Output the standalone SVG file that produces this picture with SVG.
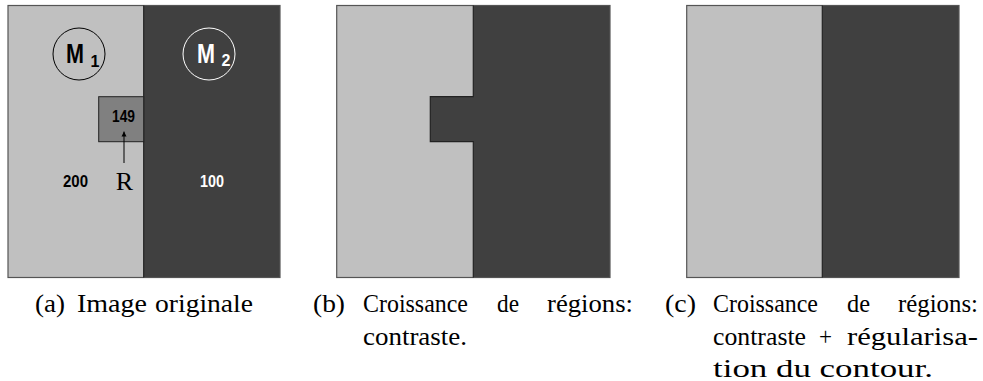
<svg xmlns="http://www.w3.org/2000/svg" width="983" height="381" viewBox="0 0 983 381">
<style>
.light{fill:#c0c0c0;}
.dark{fill:#404040;}
.mid{fill:#808080;stroke:#222;stroke-width:1;}
.frame{fill:none;stroke:#555;stroke-width:1.2;}
.edge{stroke:#222;stroke-width:1.2;fill:none;}
.conn{stroke:#000;stroke-width:1;fill:none;}
.cap{font-family:'Liberation Serif','Times New Roman',serif;font-size:25px;fill:#000;}
</style>
<defs>
<marker id="ah" viewBox="0 0 10 10" refX="10" refY="5" markerWidth="5" markerHeight="10" markerUnits="userSpaceOnUse" orient="auto">
<path d="M0,0 L10,5 L0,10 z" fill="#000"/>
</marker>
</defs>
<rect width="983" height="381" fill="#fff"/>

<g id="panel-a" font-family="'Liberation Sans', Arial, sans-serif" font-weight="bold">
<rect class="light" x="8" y="5.5" width="135.7" height="272"/>
<rect class="dark" x="143.7" y="5.5" width="136.3" height="272"/>
<rect class="frame" x="8" y="5.5" width="272" height="272"/>
<line class="edge" x1="143.7" y1="5.5" x2="143.7" y2="277.5"/>
<g id="M1">
<circle cx="79" cy="54" r="26" fill="none" stroke="#000" stroke-width="1"/>
<text x="66" y="63.3" font-size="27" fill="#000" textLength="18" lengthAdjust="spacingAndGlyphs">M</text>
<text x="90.5" y="66.5" font-size="16" fill="#000">1</text>
</g>
<g id="M2">
<circle cx="209" cy="54" r="26" fill="none" stroke="#fff" stroke-width="1"/>
<text x="197" y="63.3" font-size="27" fill="#fff" textLength="18" lengthAdjust="spacingAndGlyphs">M</text>
<text x="221.5" y="66" font-size="16" fill="#fff">2</text>
</g>
<g id="R-region">
<rect class="mid" x="98.7" y="96.7" width="45" height="45"/>
<text x="123.5" y="121.7" font-size="16" text-anchor="middle" textLength="23" lengthAdjust="spacingAndGlyphs" fill="#000">149</text>
</g>
<g id="R-label">
<text x="124.5" y="190" font-family="'Liberation Serif','Times New Roman',serif" font-weight="normal" font-size="26" text-anchor="middle" fill="#000">R</text>
</g>
<g id="v200"><text x="75.5" y="187" font-size="16" text-anchor="middle" textLength="25" lengthAdjust="spacingAndGlyphs" fill="#000">200</text></g>
<g id="v100"><text x="212" y="187" font-size="16" text-anchor="middle" textLength="24" lengthAdjust="spacingAndGlyphs" fill="#fff">100</text></g>
</g>

<g id="connectors">
<line class="conn" x1="124" y1="163" x2="124" y2="131.5" marker-end="url(#ah)"/>
</g>

<g id="panel-b">
<rect class="light" x="336.7" y="5.5" width="136.6" height="272"/>
<path class="dark" d="M473.3,5.5 H610 V277.5 H473.3 V141.7 H430.3 V96.7 H473.3 Z"/>
<rect class="frame" x="336.7" y="5.5" width="273.3" height="272"/>
<path class="edge" d="M473.3,5.5 V96.7 H430.3 V141.7 H473.3 V277.5"/>
</g>

<g id="panel-c">
<rect class="light" x="686.7" y="5.5" width="135.6" height="272"/>
<rect class="dark" x="822.3" y="5.5" width="136.7" height="272"/>
<rect class="frame" x="686.7" y="5.5" width="272.3" height="272"/>
<line class="edge" x1="822.3" y1="5.5" x2="822.3" y2="277.5"/>
</g>

<g id="captions">
<g id="caption-a">
<text class="cap" x="35" y="311.5" textLength="30" lengthAdjust="spacingAndGlyphs">(a)</text>
<text class="cap" x="77" y="311.5" textLength="70" lengthAdjust="spacingAndGlyphs">Image</text>
<text class="cap" x="155" y="311.5" textLength="98" lengthAdjust="spacingAndGlyphs">originale</text>
</g>
<g id="caption-b">
<text class="cap" x="313" y="311.5" textLength="32" lengthAdjust="spacingAndGlyphs">(b)</text>
<text class="cap" x="363" y="311.5" textLength="105" lengthAdjust="spacingAndGlyphs">Croissance</text>
<text class="cap" x="497" y="311.5" textLength="22" lengthAdjust="spacingAndGlyphs">de</text>
<text class="cap" x="547" y="311.5" textLength="86" lengthAdjust="spacingAndGlyphs">régions:</text>
<text class="cap" x="363" y="344.5" textLength="104" lengthAdjust="spacingAndGlyphs">contraste.</text>
</g>
<g id="caption-c">
<text class="cap" x="665" y="311.5" textLength="31" lengthAdjust="spacingAndGlyphs">(c)</text>
<text class="cap" x="713" y="311.5" textLength="105" lengthAdjust="spacingAndGlyphs">Croissance</text>
<text class="cap" x="847" y="311.5" textLength="23" lengthAdjust="spacingAndGlyphs">de</text>
<text class="cap" x="898" y="311.5" textLength="80" lengthAdjust="spacingAndGlyphs">régions:</text>
<text class="cap" x="713" y="344.5" textLength="93" lengthAdjust="spacingAndGlyphs">contraste</text>
<text class="cap" x="819" y="344.5" textLength="13" lengthAdjust="spacingAndGlyphs">+</text>
<text class="cap" x="847" y="344.5" textLength="131" lengthAdjust="spacingAndGlyphs">régularisa-</text>
<text class="cap" x="713" y="376.5" textLength="220" lengthAdjust="spacingAndGlyphs">tion du contour.</text>
</g>
</g>
</svg>
